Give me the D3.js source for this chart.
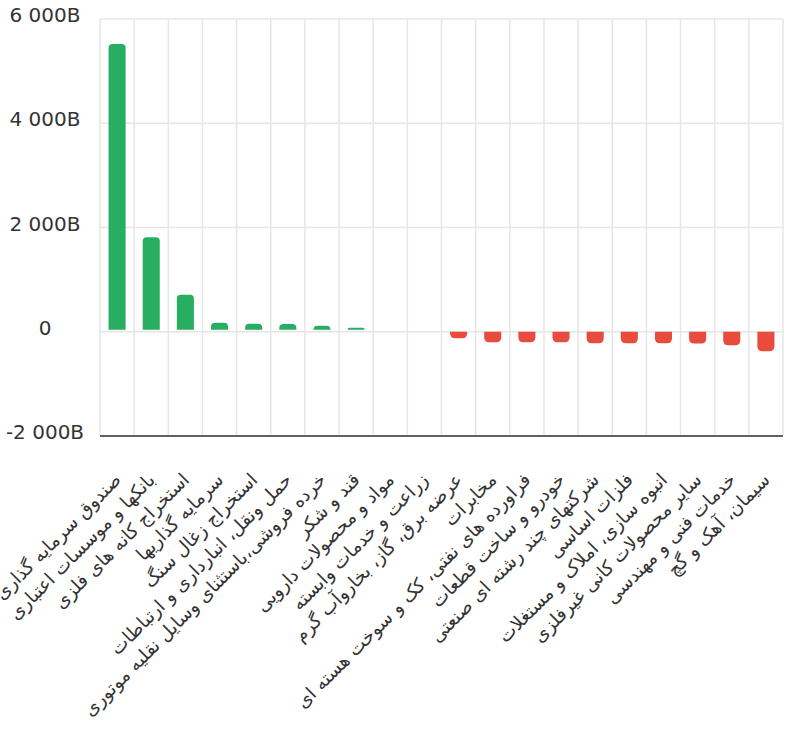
<!DOCTYPE html>
<html>
<head>
<meta charset="utf-8">
<script src="https://cdn.jsdelivr.net/npm/d3@7/dist/d3.min.js"></script>
<style>
  html, body { margin: 0; padding: 0; background: #ffffff; }
  svg { display: block; }
</style>
</head>
<body>
<svg id="chart" width="800" height="729"></svg>
<script>
const categories = [
  "صندوق سرمایه گذاری",
  "بانکها و موسسات اعتباری",
  "استخراج کانه های فلزی",
  "سرمایه گذاریها",
  "استخراج زغال سنگ",
  "حمل ونقل، انبارداری و ارتباطات",
  "خرده فروشی،باستثنای وسایل نقلیه موتوری",
  "قند و شکر",
  "مواد و محصولات دارویی",
  "زراعت و خدمات وابسته",
  "عرضه برق، گاز، بخاروآب گرم",
  "مخابرات",
  "فراورده های نفتی، کک و سوخت هسته ای",
  "خودرو و ساخت قطعات",
  "شرکتهای چند رشته ای صنعتی",
  "فلزات اساسی",
  "انبوه سازی، املاک و مستغلات",
  "سایر محصولات کانی غیرفلزی",
  "خدمات فنی و مهندسی",
  "سیمان، آهک و گچ"
];
// values in billions
const values = [5520, 1815, 710, 173, 153, 150, 115, 77, 0, 0,
  -123, -200, -200, -200, -219, -219, -219, -225, -257, -372];
const yTicks = [-2000, 0, 2000, 4000, 6000];
const yDomain = [-2000, 6000];

const svg = d3.select("#chart");
const mLeft = 100, mRight = 783, mTop = 19, mBottom = 436;

const x = d3.scaleBand().domain(categories).range([mLeft, mRight])
  .paddingInner(0.5).paddingOuter(0.25);
const y = d3.scaleLinear().domain(yDomain).range([mBottom, mTop]);

const fmt = v => d3.format(",")(v).replace(/,/g, " ").replace("−", "-") + (v === 0 ? "" : "B");

// horizontal grid
svg.append("g").selectAll("line").data(yTicks).join("line")
  .attr("x1", mLeft).attr("x2", mRight)
  .attr("y1", d => y(d)).attr("y2", d => y(d))
  .attr("stroke", "#e6e6e6").attr("stroke-width", 1.5);

// vertical grid at band boundaries
const step = x.step();
const bounds = d3.range(categories.length + 1);
svg.append("g").selectAll("line").data(bounds).join("line")
  .attr("x1", i => mLeft + i * step).attr("x2", i => mLeft + i * step)
  .attr("y1", mTop).attr("y2", mBottom)
  .attr("stroke", "#e6e6e6").attr("stroke-width", 1.5);

// y labels
svg.append("g").selectAll("text").data(yTicks).join("text")
  .attr("x", 45).attr("y", d => y(d) + 3)
  .attr("text-anchor", "middle")
  .attr("font-family", "DejaVu Sans")
  .attr("font-size", 20)
  .attr("fill", "#333")
  .text(d => fmt(d));

// bars with rounded outer corners
function barPath(d, i) {
  const v = values[i];
  const bx = x(d), bw = x.bandwidth();
  const y0 = y(0);
  if (v === 0) return "";
  if (v > 0) {
    const yb = y0 - 2;
    const yt = y(v);
    const h = yb - yt;
    const r = Math.min(4, h, bw / 2);
    return `M${bx},${yb} V${yt + r} Q${bx},${yt} ${bx + r},${yt} H${bx + bw - r} Q${bx + bw},${yt} ${bx + bw},${yt + r} V${yb} Z`;
  } else {
    const yt = y0;
    const yb = y(v);
    const h = yb - yt;
    const r = Math.min(5, h, bw / 2);
    return `M${bx},${yt} V${yb - r} Q${bx},${yb} ${bx + r},${yb} H${bx + bw - r} Q${bx + bw},${yb} ${bx + bw},${yb - r} V${yt} Z`;
  }
}
svg.append("g").selectAll("path").data(categories).join("path")
  .attr("d", (d, i) => barPath(d, i))
  .attr("fill", (d, i) => values[i] >= 0 ? "#27ae60" : "#e74c3c");

// x axis line
svg.append("line")
  .attr("x1", mLeft).attr("x2", mRight)
  .attr("y1", mBottom).attr("y2", mBottom)
  .attr("stroke", "#333").attr("stroke-width", 1.5);

// x labels rotated
svg.append("g").selectAll("text").data(categories).join("text")
  .attr("transform", d => `translate(${x(d) + x.bandwidth() / 2 + 5},${mBottom + 45}) rotate(-45)`)
  .attr("text-anchor", "end")
  .attr("font-family", "DejaVu Sans")
  .attr("font-size", 18.5)
  .attr("fill", "#333")
  .text(d => d);
</script>
</body>
</html>
